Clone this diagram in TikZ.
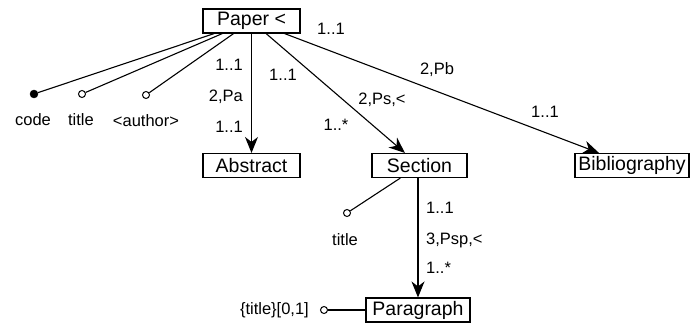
\documentclass[tikz,border=0pt]{standalone}
\usepackage{fontspec}
\setmainfont{Liberation Sans}
\usetikzlibrary{arrows.meta}
\begin{document}
\begin{tikzpicture}[x=1pt,y=-1pt,
  entity/.style={draw, line width=1.1pt, minimum height=24pt, inner sep=0pt,
    font=\fontsize{19.5}{21}\selectfont},
  lbl/.style={inner sep=0pt, font=\fontsize{16.5}{18}\selectfont},
  conn/.style={line width=1.1pt},
  rel/.style={conn, -{Stealth[length=16pt,width=13pt,inset=5pt]}},
  optattr/.style={circle, draw, line width=1pt, fill=white, minimum size=7pt, inner sep=0pt},
  keyattr/.style={circle, draw, fill=black, minimum size=8pt, inner sep=0pt}]
\useasboundingbox (0,0) rectangle (690,323);

% entities
\node[entity, minimum width=97pt]  (paper)  at (251.5,21)  {Paper <};
\node[entity, minimum width=97pt]  (abstr)  at (251.5,165.5) {Abstract};
\node[entity, minimum width=95pt]  (sect)   at (419.5,165.5) {Section};
\node[entity, minimum width=114pt] (biblio) at (632,165.5) {Bibliography};
\node[entity, minimum width=104pt] (para)   at (418,310) {Paragraph};

% attributes of Paper
\node[keyattr] (acode)   at (34,94) {};
\node[optattr] (atitle)  at (82,94) {};
\node[optattr] (aauthor) at (146,95) {};
\node[lbl] (tcode)   at (33,120) {code};
\node[lbl] (ttitle)  at (81,120) {title};
\node[lbl] (tauthor) at (146,121) {<author>};

% attribute of Section
\node[optattr] (stitle) at (347,213) {};
\node[lbl] (tstitle) at (345,240) {title};

% attribute of Paragraph
\node[optattr] (ptitle) at (324,310) {};
\node[lbl, anchor=east] (tptitle) at (309,310) {\{title\}[0,1]};

% attribute links
\draw[conn] (paper) -- (acode);
\draw[conn] (paper) -- (atitle);
\draw[conn] (paper) -- (aauthor);
\draw[conn] (sect) -- (stitle);
\draw[conn] (ptitle) -- (para);

% relationships
\draw[rel] (paper) -- (abstr);
\draw[rel] (paper) -- (sect);
\draw[rel] (paper) -- (biblio);
\draw[rel] (sect.south -| para) -- (para);

% cardinalities and relationship names
\node[lbl, anchor=east] (la1) at (243,65)  {1..1};
\node[lbl, anchor=east] (la2) at (243,97)  {2,Pa};
\node[lbl, anchor=east] (la3) at (243,127) {1..1};
\node[lbl] (ls1) at (283,75)  {1..1};
\node[lbl] (ls2) at (382,100) {2,Ps,<};
\node[lbl] (ls3) at (336,125) {1..*};
\node[lbl] (lb1) at (331,29)  {1..1};
\node[lbl] (lb2) at (437,70)  {2,Pb};
\node[lbl] (lb3) at (545,112) {1..1};
\node[lbl, anchor=west] (lp1) at (426,208) {1..1};
\node[lbl, anchor=west] (lp2) at (426,240) {3,Psp,<};
\node[lbl, anchor=west] (lp3) at (426,268) {1..*};
\end{tikzpicture}
\end{document}
